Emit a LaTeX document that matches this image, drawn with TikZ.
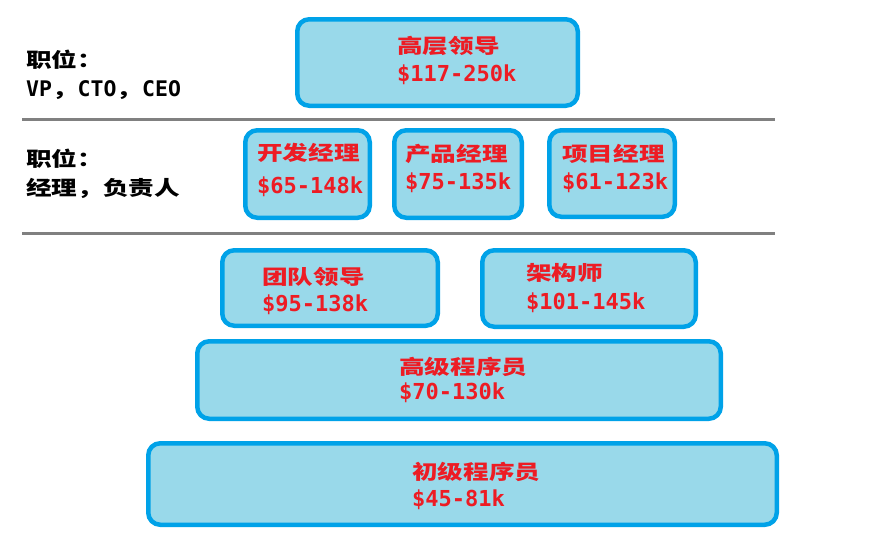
\documentclass[tikz,border=0pt]{standalone}
\usepackage{fontspec}
\newfontfamily\cjk{Noto Sans CJK SC}[FakeStretch=1.28]
\newfontfamily\latn{DejaVu Sans Mono}
\newcommand\rl[1]{{\latn\fontsize{21.5}{29}\selectfont #1}}
\definecolor{tierblue}{RGB}{0,162,232}
\definecolor{tierfill}{RGB}{153,217,234}
\definecolor{payred}{RGB}{237,28,36}
\definecolor{rulegray}{RGB}{128,128,128}
\tikzset{
tier/.style={draw=tierblue,fill=tierfill,line width=4.5pt,rounded corners=12pt,inner sep=0pt},
pay/.style={anchor=west,inner sep=0pt,text=payred,font=\cjk\bfseries\fontsize{20}{24}\selectfont},
payfig/.style={pay,font=\latn\bfseries\fontsize{22}{24}\selectfont},
rank/.style={anchor=west,inner sep=0pt,align=left,font=\cjk\bfseries\fontsize{20}{29}\selectfont}
}
\begin{document}
\begin{tikzpicture}[x=1pt,y=-1pt]
\useasboundingbox (0,0) rectangle (882,549);
\foreach \n/\y in {one/119,two/233}{
\coordinate (\n west) at (22,\y);
\coordinate (\n east) at (775,\y);
\draw[rulegray,line width=3pt] (\n west) -- (\n east);
}
\foreach \n/\x/\y/\w/\h in {lead/437.5/62.5/280.5/86.5,dev/307.5/174/124.5/87.5,
prod/458/174/127.5/87.5,proj/612/173.5/125.5/86.5,team/330/288/215.5/75.5,
arch/589/288.5/213.5/76.5,senior/459/380/523.5/77.5,junior/462.5/484/628.5/81.5}
\node[tier,minimum width=\w pt,minimum height=\h pt] (\n) at (\x,\y) {};
\foreach \n/\x/\ya/\yb/\t/\p in {lead/397/46/75/高层领导/117-250,dev/257/153/187/开发经理/65-148,
prod/405/154/183/产品经理/75-135,proj/562/154/183/项目经理/61-123,team/262/277/305/团队领导/95-138,
arch/526/273/303/架构师/101-145,senior/399/367/393/高级程序员/70-130,junior/412/472/500/初级程序员/45-81}
{
\node[pay] (\n title) at (\x,\ya) {\t};
\node[payfig] (\n pay) at (\x,\yb) {\$\p k};
}
\node[rank] (rankup) at (26,75) {职位：\\\rl{VP}，\rl{CTO}，\rl{CEO}};
\node[rank] (rankmid) at (26,173.5) {职位：\\经理，负责人};
\end{tikzpicture}
\end{document}
